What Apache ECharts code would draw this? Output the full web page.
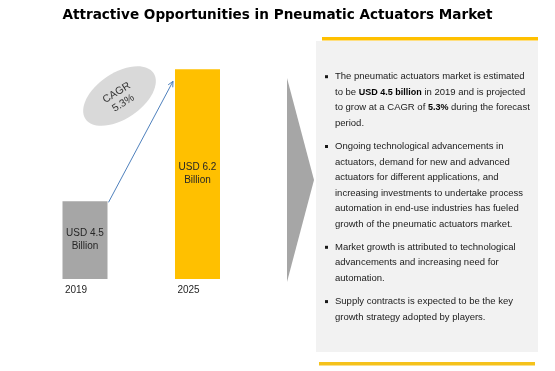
<!DOCTYPE html>
<html><head><meta charset="utf-8">
<script src="https://cdn.jsdelivr.net/npm/echarts@6/dist/echarts.min.js"></script>
<style>html,body{margin:0;padding:0;background:#fff}#c{width:555px;height:371px}</style>
</head><body><div id="c"></div>
<script>
const titleText = 'Attractive Opportunities in Pneumatic Actuators Market';
const years = ['2019', '2025'];
const marketValues = [4.5, 6.2];
const barLabels = ['USD 4.5\nBillion', 'USD 6.2\nBillion'];
const barColors = ['#a6a6a6', '#ffc000'];
const cagrLabel = 'CAGR\n5.3%';
const bullets = [
  ['The pneumatic actuators market is estimated',
   'to be {b|USD 4.5 billion} in 2019 and is projected',
   'to grow at a CAGR of {b|5.3%} during the forecast',
   'period.'],
  ['Ongoing technological advancements in',
   'actuators, demand for new and advanced',
   'actuators for different applications, and',
   'increasing investments to undertake process',
   'automation in end-use industries has fueled',
   'growth of the pneumatic actuators market.'],
  ['Market growth is attributed to technological',
   'advancements and increasing need for',
   'automation.'],
  ['Supply contracts is expected to be the key',
   'growth strategy adopted by players.']
];

const chart = echarts.init(document.getElementById('c'), null, {renderer: 'canvas'});
const BAR_W = 45;
chart.setOption({
  animation: false,
  backgroundColor: '#ffffff',
  title: {
    text: titleText, left: 'center', top: 3,
    textStyle: {fontFamily: 'DejaVu Sans', fontWeight: 'bold', fontSize: 13.6, color: '#000'}
  },
  grid: {left: 28.75, width: 225, top: 69.3, height: 209.7},
  xAxis: {
    type: 'category', data: years,
    axisLine: {show: false}, axisTick: {show: false},
    axisLabel: {fontFamily: 'Liberation Sans', fontSize: 10, color: '#262626', margin: 6, padding: [0, 18, 0, 0]}
  },
  yAxis: {type: 'value', min: 3.5, max: 6.2, show: false},
  series: [{
    type: 'bar', barWidth: BAR_W,
    data: marketValues.map((v, i) => ({value: v, itemStyle: {color: barColors[i]}})),
    label: {
      show: true, position: 'inside',
      formatter: p => barLabels[p.dataIndex],
      fontFamily: 'Liberation Sans', fontSize: 10, lineHeight: 13, color: '#262626'
    }
  }]
});

const p0 = chart.convertToPixel({seriesIndex: 0}, [0, marketValues[0]]);
const p1 = chart.convertToPixel({seriesIndex: 0}, [1, marketValues[1]]);
const ax0 = p0[0] + BAR_W / 2 + 1, ay0 = p0[1] + 1;
const ax1 = p1[0] - BAR_W / 2 - 2, ay1 = p1[1] + 12;
const ang = Math.atan2(ay1 - ay0, ax1 - ax0);
const hl = 6, hw = 0.45;
const arrowHead = [
  [ax1 - hl * Math.cos(ang - hw), ay1 - hl * Math.sin(ang - hw)],
  [ax1, ay1],
  [ax1 - hl * Math.cos(ang + hw), ay1 - hl * Math.sin(ang + hw)]
];

const graphics = [
  {type: 'polygon', shape: {points: [[287, 78], [314, 180], [287, 282]]}, style: {fill: '#a6a6a6'}},
  {type: 'rect', shape: {x: 316, y: 41, width: 222, height: 311}, style: {fill: '#f2f2f2'}},
  {type: 'rect', shape: {x: 322, y: 37, width: 216, height: 3.5}, style: {fill: '#ffc000'}},
  {type: 'rect', shape: {x: 319, y: 362, width: 216, height: 3.5}, style: {fill: '#f5c21b'}},
  {type: 'ellipse', x: 119.5, y: 96, rotation: 34 * Math.PI / 180, shape: {cx: 0, cy: 0, rx: 41, ry: 23}, style: {fill: '#d9d9d9'}},
  {type: 'text', x: 120, y: 98, rotation: 32 * Math.PI / 180,
   style: {text: cagrLabel, align: 'center', verticalAlign: 'middle', fontFamily: 'Liberation Sans', fontSize: 10.5, lineHeight: 12.5, fill: '#333333'}},
  {type: 'line', shape: {x1: ax0, y1: ay0, x2: ax1, y2: ay1}, style: {stroke: '#4f81bd', lineWidth: 1}},
  {type: 'polyline', shape: {points: arrowHead}, style: {stroke: '#4f81bd', lineWidth: 1, fill: null}}
];

const LH = 15.5, GAP = 7.8;
let cy = 76.7;
bullets.forEach(lines => {
  graphics.push({type: 'rect', shape: {x: 325, y: cy - 1.5, width: 3, height: 3}, style: {fill: '#1a1a1a'}});
  graphics.push({
    type: 'text', x: 335, y: cy - LH / 2,
    style: {
      text: lines.join('\n'), fontFamily: 'Liberation Sans', fontSize: 9.5, lineHeight: LH,
      fill: '#1a1a1a', verticalAlign: 'top', align: 'left',
      rich: {b: {fontFamily: 'Liberation Sans Narrow, Liberation Sans', fontWeight: 'bold', fontSize: 9, lineHeight: LH, fill: '#000'}}
    }
  });
  cy += lines.length * LH + GAP;
});
chart.setOption({graphic: {elements: graphics}});
</script></body></html>
